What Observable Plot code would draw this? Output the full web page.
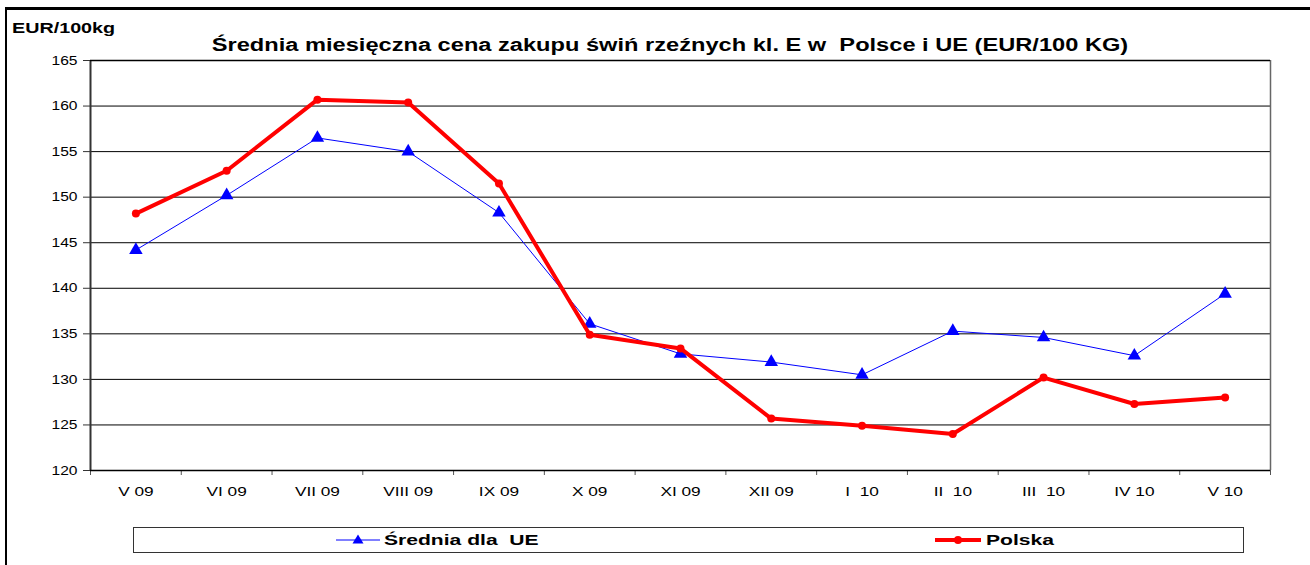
<!DOCTYPE html>
<html>
<head>
<meta charset="utf-8">
<script src="https://cdn.jsdelivr.net/npm/d3@7"></script>
<script src="https://cdn.jsdelivr.net/npm/@observablehq/plot@0.6"></script>
<style>
  html, body { margin: 0; padding: 0; background: #fff; }
  #wrap { position: relative; width: 1310px; height: 565px; overflow: hidden; font-family: "Liberation Sans", Arial, sans-serif; }
  #border { position: absolute; left: 5px; top: 7px; width: 1400px; height: 700px; border-left: 2px solid #000; border-top: 3px solid #000; box-sizing: border-box; }
  #unit { position: absolute; left: 12px; top: 20px; font-weight: bold; font-size: 14px; color: #000; transform: scaleX(1.41); transform-origin: left center; }
  #title { position: absolute; left: 0; width: 1340px; top: 35px; text-align: center; font-weight: bold; font-size: 17.5px; color: #000; white-space: pre; transform: scaleX(1.35); transform-origin: 670px center; }
  #chart { position: absolute; left: 0; top: 0; }
  #legend { position: absolute; left: 133px; top: 527px; width: 1111px; height: 26px; border: 1px solid #333; box-sizing: border-box; background: #fff; }
  .item { position: absolute; top: 2px; display: flex; align-items: center; font-weight: bold; font-size: 15.5px; white-space: pre; }
  .item span { display: inline-block; transform: scaleX(1.36); transform-origin: left center; }
</style>
</head>
<body>
<div id="wrap">
  <div id="border"></div>
  <div id="chart"></div>
  <div id="unit">EUR/100kg</div>
  <div id="title">Średnia miesięczna cena zakupu świń rzeźnych kl. E w  Polsce i UE (EUR/100 KG)</div>
  <div id="legend"></div>
</div>
<script>
const months = ["V 09", "VI 09", "VII 09", "VIII 09", "IX 09", "X 09", "XI 09", "XII 09", "I  10", "II  10", "III  10", "IV 10", "V 10"];
const sredniaUE = [144.2, 150.2, 156.5, 155.0, 148.3, 136.1, 132.8, 131.9, 130.5, 135.3, 134.6, 132.6, 139.4];
const polska = [148.2, 152.9, 160.7, 160.4, 151.5, 134.9, 133.4, 125.7, 124.9, 124.0, 130.2, 127.3, 128.0];
const yTicks = [120, 125, 130, 135, 140, 145, 150, 155, 160, 165];
const seriesNames = ["Średnia dla  UE", "Polska"];
const seriesColors = ["#0000ff", "#ff0000"];

const ueRows = months.map((m, i) => ({i, v: sredniaUE[i]}));
const plRows = months.map((m, i) => ({i, v: polska[i]}));
const idx = d3.range(months.length);
const bounds = d3.range(-0.5, months.length, 1);

const chart = Plot.plot({
  width: 1310,
  height: 510,
  marginTop: 60,
  marginLeft: 90,
  marginRight: 40,
  marginBottom: 40,
  x: {type: "linear", domain: [-0.5, months.length - 0.5]},
  y: {domain: [120, 165]},
  style: {fontFamily: "'Liberation Sans', Arial, sans-serif", fontSize: "12px", color: "#000", background: "transparent"},
  marks: [
    Plot.gridY(yTicks, {stroke: "#000", strokeOpacity: 1, strokeWidth: 1}),
    Plot.axisY(yTicks, {tickSize: 7, tickPadding: 6, label: null, fontSize: 13, stroke: "#333"}),
    Plot.axisX(bounds, {tickSize: 5, tickFormat: () => "", label: null, stroke: "#555"}),
    Plot.axisX(idx, {tickSize: 0, tickPadding: 17, tickFormat: i => months[i], label: null, fontSize: 12.5}),
    Plot.ruleX([-0.5], {stroke: "#333", strokeWidth: 2}),
    Plot.ruleX([months.length - 0.5], {stroke: "#666", strokeWidth: 1.5}),
    Plot.ruleY([120], {stroke: "#000", strokeWidth: 1.5}),
    Plot.ruleY([165], {stroke: "#000", strokeWidth: 1.5}),
    Plot.line(ueRows, {x: "i", y: "v", stroke: seriesColors[0], strokeWidth: 1}),
    Plot.dot(ueRows, {x: "i", y: "v", symbol: "triangle", fill: seriesColors[0], r: 5}),
    Plot.line(plRows, {x: "i", y: "v", stroke: seriesColors[1], strokeWidth: 4, strokeLinejoin: "round"}),
    Plot.dot(plRows, {x: "i", y: "v", fill: seriesColors[1], r: 4})
  ]
});

// widen tick labels horizontally, like the reference's stretched text
function stretch(selector, s) {
  chart.querySelectorAll(selector).forEach(t => {
    const tr = t.getAttribute("transform");
    if (tr) {
      t.setAttribute("transform", tr + ` scale(${s},1)`);
    } else {
      const x = +(t.getAttribute("x") || 0), y = +(t.getAttribute("y") || 0);
      t.removeAttribute("x"); t.removeAttribute("y");
      t.setAttribute("transform", `translate(${x},${y}) scale(${s},1)`);
    }
  });
}
stretch('g[aria-label="x-axis tick label"] text', 1.38);
stretch('g[aria-label="y-axis tick label"] text', 1.2);
document.getElementById("chart").appendChild(chart);

// legend
const legend = document.getElementById("legend");
const lefts = [201, 799];
seriesNames.forEach((name, k) => {
  const it = document.createElement("div");
  it.className = "item";
  it.style.left = lefts[k] + "px";
  const sw = k === 0
    ? `<svg width="46" height="20"><line x1="1" y1="10" x2="45" y2="10" stroke="${seriesColors[0]}" stroke-width="1"/><path d="M23,4.5 L28.5,13.5 L17.5,13.5 Z" fill="${seriesColors[0]}"/></svg>`
    : `<svg width="50" height="20"><line x1="2" y1="10" x2="48" y2="10" stroke="${seriesColors[1]}" stroke-width="4"/><circle cx="25" cy="10" r="4" fill="${seriesColors[1]}"/></svg>`;
  it.innerHTML = sw + `<span style="margin-left:3px">${name}</span>`;
  legend.appendChild(it);
});
</script>
</body>
</html>
